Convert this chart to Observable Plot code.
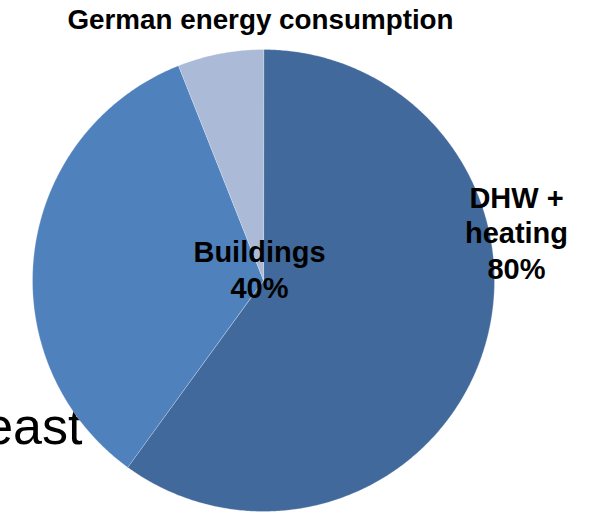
<!DOCTYPE html>
<html>
<head>
<meta charset="utf-8">
<script src="https://cdn.jsdelivr.net/npm/d3@7"></script>
<script src="https://cdn.jsdelivr.net/npm/@observablehq/plot@0.6"></script>
<style>
  html, body { margin: 0; padding: 0; background: #fff; }
  svg { display: block; }
</style>
</head>
<body>
<div id="chart"></div>
<script>
// ---- data ----
const title = "German energy consumption";
const categories = ["Other sectors", "Buildings: DHW + heating", "Buildings: other"];
const values = [60, 34, 6];
const colors = ["#41699B", "#4F81BD", "#AABAD7"];
const labelBuildings = "Buildings\n40%";
const labelDHW = "DHW +\nheating\n80%";
const backgroundWord = "east";

// ---- geometry via d3.pie ----
const W = 592, H = 512, CX = 263, CY = 280, R = 231;
const arcs = d3.pie().sort(null).value(d => d)(values);
const pts = [];
arcs.forEach((a, i) => {
  const steps = Math.max(2, Math.ceil((a.endAngle - a.startAngle) / (Math.PI / 360)));
  pts.push({cat: categories[i], x: 0, y: 0});
  for (let k = 0; k <= steps; k++) {
    const t = a.startAngle + (a.endAngle - a.startAngle) * k / steps;
    pts.push({cat: categories[i], x: Math.sin(t), y: Math.cos(t)});
  }
});

const font = "Liberation Sans, Arial, sans-serif";

const chart = Plot.plot({
  width: W,
  height: H,
  margin: 0,
  style: {fontFamily: font, background: "#fff"},
  x: {domain: [-CX / R, (W - CX) / R], axis: null},
  y: {domain: [-(H - CY) / R, CY / R], axis: null},
  color: {domain: categories, range: colors},
  marks: [
    Plot.text([backgroundWord], {
      text: d => d, frameAnchor: "top-left", dx: 82, dy: 443,
      textAnchor: "end", lineAnchor: "bottom",
      fontSize: 52, fill: "#000", fontWeight: "normal"
    }),
    Plot.line(pts, {
      x: "x", y: "y", z: "cat", fill: "cat", curve: "linear-closed",
      stroke: "#ffffff", strokeWidth: 0.6, strokeOpacity: 0.45
    }),
    Plot.text([title], {
      text: d => d, frameAnchor: "top-left", dx: 260, dy: 28,
      textAnchor: "middle", lineAnchor: "bottom",
      fontSize: 27.8, fontWeight: "bold", fill: "#000"
    }),
    Plot.text([labelBuildings], {
      text: d => d, frameAnchor: "top-left", dx: 259, dy: 297,
      textAnchor: "middle", lineAnchor: "bottom", lineHeight: 1.22,
      fontSize: 29, fontWeight: "bold", fill: "#000"
    }),
    Plot.text([labelDHW], {
      text: d => d, frameAnchor: "top-left", dx: 516, dy: 278,
      textAnchor: "middle", lineAnchor: "bottom", lineHeight: 1.22,
      fontSize: 29, fontWeight: "bold", fill: "#000"
    })
  ]
});
document.getElementById("chart").append(chart);
</script>
</body>
</html>
